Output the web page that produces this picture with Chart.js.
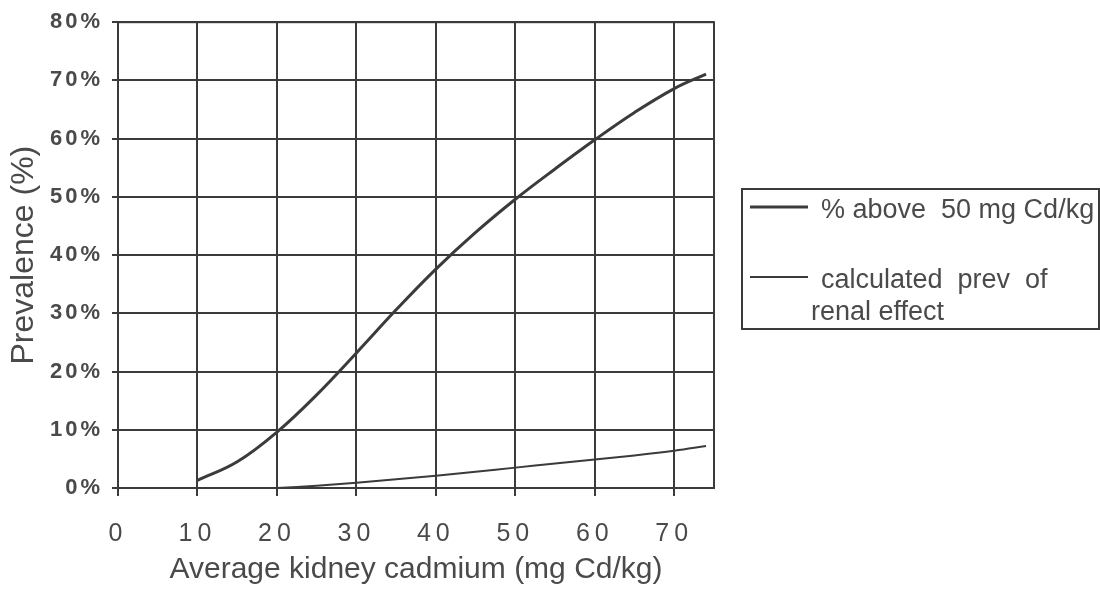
<!DOCTYPE html>
<html>
<head>
<meta charset="utf-8">
<title>Kidney cadmium prevalence</title>
<script src="https://cdn.jsdelivr.net/npm/chart.js@4.4.1/dist/chart.umd.min.js"></script>
<style>
  html, body { margin: 0; padding: 0; background: #fff; }
  #chart { display: block; }
</style>
</head>
<body>
<canvas id="chart" width="1100" height="589"></canvas>
<script>
// Average kidney cadmium (mg Cd/kg) and prevalence (%) for both curves
const cadmiumAbove = [10, 15, 20, 25, 30, 35, 40, 45, 50, 55, 60, 65, 70, 74];
const prevAbove = [1.3, 4.5, 9.6, 16, 23.2, 30.6, 37.6, 43.9, 49.6, 54.8, 59.8, 64.5, 68.6, 71.1];

const cadmiumRenal = [20, 25, 30, 35, 40, 45, 50, 55, 60, 65, 70, 74];
const prevRenal = [0, 0.4, 0.9, 1.5, 2.1, 2.8, 3.5, 4.2, 4.9, 5.6, 6.4, 7.2];

const seriesLabels = ['% above  50 mg Cd/kg', ['calculated  prev  of', 'renal effect']];
const xTicks = [0, 10, 20, 30, 40, 50, 60, 70];
const yTicks = [0, 10, 20, 30, 40, 50, 60, 70, 80];

const ink = '#3b3b3b';
const textInk = '#4a4a4a';
const fontFamily = '"Liberation Sans", Arial, Helvetica, sans-serif';

function toPoints(xs, ys) {
    return xs.map((x, i) => ({ x: x, y: ys[i] }));
}

// Spread the digits of the tick labels apart a little
const spacedTicks = {
    id: 'spacedTicks',
    beforeDraw(chart) {
        [['x', '5px'], ['y', '3px']].forEach(([id, gap]) => {
            const scale = chart.scales[id];
            if (!scale || scale._spaced) return;
            const orig = scale.drawLabels;
            scale.drawLabels = function(area) {
                const c = this.ctx;
                c.save();
                c.letterSpacing = gap;
                orig.call(this, area);
                c.restore();
            };
            scale._spaced = true;
        });
    }
};

// Closed frame round the plot area
const plotFrame = {
    id: 'plotFrame',
    beforeDatasetsDraw(chart) {
        const { ctx, chartArea: a } = chart;
        ctx.save();
        ctx.strokeStyle = ink;
        ctx.lineWidth = 2;
        ctx.strokeRect(a.left, a.top, a.right - a.left, a.bottom - a.top);
        ctx.restore();
    }
};

// Boxed legend to the right of the plot
const boxLegend = {
    id: 'boxLegend',
    afterDraw(chart) {
        const ctx = chart.ctx;
        const box = { left: 742, top: 189, right: 1099, bottom: 329 };
        const rows = [207, 277];
        ctx.save();
        ctx.strokeStyle = ink;
        ctx.lineWidth = 2;
        ctx.strokeRect(box.left, box.top, box.right - box.left, box.bottom - box.top);
        ctx.font = '27px ' + fontFamily;
        ctx.fillStyle = textInk;
        ctx.textBaseline = 'middle';
        chart.data.datasets.forEach((ds, i) => {
            const y = rows[i];
            ctx.beginPath();
            ctx.lineWidth = ds.borderWidth;
            ctx.strokeStyle = ds.borderColor;
            ctx.moveTo(750, y);
            ctx.lineTo(808, y);
            ctx.stroke();
            const lines = Array.isArray(ds.label) ? ds.label : [ds.label];
            lines.forEach((t, k) => {
                ctx.fillText(t, k === 0 ? 821 : 811, y + 4 + k * 32);
            });
        });
        ctx.restore();
    }
};

const ctx = document.getElementById('chart');

new Chart(ctx, {
    type: 'line',
    data: {
        datasets: [{
            label: seriesLabels[0],
            data: toPoints(cadmiumAbove, prevAbove),
            borderColor: ink,
            borderWidth: 3,
            pointRadius: 0,
            fill: false,
            tension: 0.4
        }, {
            label: seriesLabels[1],
            data: toPoints(cadmiumRenal, prevRenal),
            borderColor: ink,
            borderWidth: 2,
            pointRadius: 0,
            fill: false,
            tension: 0.4
        }]
    },
    options: {
        responsive: false,
        animation: false,
        devicePixelRatio: 1,
        layout: {
            padding: { top: 21, right: 386, bottom: 0, left: 0 }
        },
        scales: {
            x: {
                type: 'linear',
                min: 0,
                max: 75,
                afterBuildTicks: scale => {
                    scale.ticks = xTicks.map(v => ({ value: v }));
                },
                afterFit: scale => { scale.height = 101; },
                grid: {
                    color: ink,
                    lineWidth: 2,
                    drawTicks: true,
                    tickLength: 8,
                    tickColor: ink
                },
                border: { display: true, color: ink, width: 2 },
                ticks: {
                    padding: 23,
                    maxRotation: 0,
                    color: textInk,
                    font: { family: fontFamily, size: 25 }
                },
                title: {
                    display: true,
                    text: 'Average kidney cadmium (mg Cd/kg)',
                    color: textInk,
                    font: { family: fontFamily, size: 30 },
                    padding: { top: 0, bottom: 1 }
                }
            },
            y: {
                min: 0,
                max: 80,
                afterBuildTicks: scale => {
                    scale.ticks = yTicks.map(v => ({ value: v }));
                },
                afterFit: scale => { scale.width = 118; },
                grid: {
                    color: ink,
                    lineWidth: 2,
                    drawTicks: true,
                    tickLength: 6,
                    tickColor: ink
                },
                border: { display: true, color: ink, width: 2 },
                ticks: {
                    padding: 9,
                    color: textInk,
                    font: { family: fontFamily, size: 22, weight: 'bold' },
                    callback: v => v + '%'
                },
                title: {
                    display: true,
                    text: 'Prevalence (%)',
                    color: textInk,
                    font: { family: fontFamily, size: 32 },
                    padding: { top: 5, bottom: 0 }
                }
            }
        },
        plugins: {
            legend: { display: false },
            tooltip: { enabled: false }
        }
    },
    plugins: [spacedTicks, plotFrame, boxLegend]
});
</script>
</body>
</html>
